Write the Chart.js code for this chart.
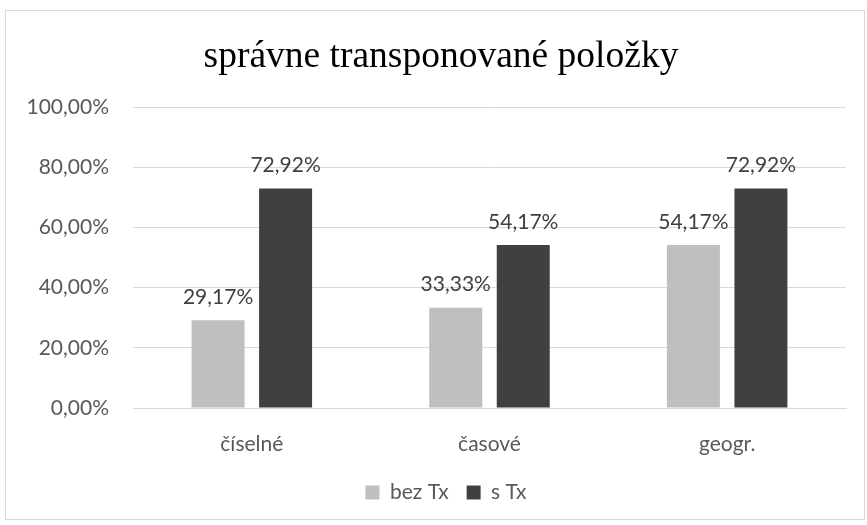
<!DOCTYPE html>
<html><head><meta charset="utf-8">
<script src="https://cdn.jsdelivr.net/npm/chart.js@4/dist/chart.umd.min.js"></script>
<style>html,body{margin:0;padding:0;background:#fff}#wrap{width:867px;height:525px;position:relative}</style>
</head><body><div id="wrap"><canvas id="c" width="867" height="525"></canvas></div>
<script>
const categories = ["číselné", "časové", "geogr."];
const seriesNames = ["bez Tx", "s Tx"];
const bezTx = [29.17, 33.33, 54.17];
const sTx = [72.92, 54.17, 72.92];
const yTicks = [0, 20, 40, 60, 80, 100];
const titleText = 'správne transponované položky';

const fmt = v => v.toFixed(2).replace('.', ',') + '%';
const FONT = "Lato, 'Open Sans', sans-serif";

const framePlugin = {
  id: 'frame',
  afterLayout(chart) {
    if (chart.legend) { chart.legend.left += 23; chart.legend.right += 23; }
  },
  beforeDraw(chart) {
    const ctx = chart.ctx;
    ctx.save();
    ctx.fillStyle = '#fff';
    ctx.fillRect(0, 0, chart.width, chart.height);
    ctx.strokeStyle = '#d9d9d9';
    ctx.lineWidth = 1;
    ctx.strokeRect(5.5, 10.5, 859, 509);
    ctx.font = "37.5px 'Liberation Serif', 'Times New Roman', serif";
    ctx.fillStyle = '#000';
    ctx.textAlign = 'center';
    ctx.textBaseline = 'middle';
    ctx.fillText(titleText, 441, 57);
    ctx.restore();
  }
};
const labelPlugin = {
  id: 'vals',
  afterDatasetsDraw(chart) {
    const ctx = chart.ctx;
    ctx.save();
    ctx.font = "21px " + FONT;
    ctx.fillStyle = '#404040';
    ctx.textAlign = 'center';
    ctx.textBaseline = 'middle';
    chart.data.datasets.forEach((ds, i) => {
      chart.getDatasetMeta(i).data.forEach((bar, j) => {
        ctx.fillText(fmt(ds.data[j]), bar.x, bar.y - 23);
      });
    });
    ctx.restore();
  }
};

new Chart(document.getElementById('c'), {
  type: 'bar',
  data: {
    labels: categories,
    datasets: [
      { label: seriesNames[0], data: bezTx, backgroundColor: '#bfbfbf', categoryPercentage: 0.568, barPercentage: 0.785 },
      { label: seriesNames[1], data: sTx, backgroundColor: '#404040', categoryPercentage: 0.568, barPercentage: 0.785 }
    ]
  },
  options: {
    responsive: false,
    animation: false,
    layout: { padding: { left: 0, right: 21, top: 107, bottom: 12 } },
    plugins: {
      title: { display: false },
      legend: {
        position: 'bottom',
        labels: { boxWidth: 14, boxHeight: 14, padding: 18, color: '#595959', font: { family: FONT, size: 21 } }
      },
      tooltip: { enabled: false }
    },
    scales: {
      x: {
        grid: { display: false, drawTicks: false },
        border: { display: true, color: '#d9d9d9' },
        ticks: { color: '#595959', padding: 24, font: { family: FONT, size: 21 } },
        afterFit(s) { s.height = 56; }
      },
      y: {
        min: 0, max: 100,
        afterBuildTicks(s) { s.ticks = yTicks.map(v => ({ value: v })); },
        grid: { color: '#d9d9d9', drawTicks: false },
        border: { display: false },
        ticks: { color: '#595959', padding: 24, font: { family: FONT, size: 21 }, callback: v => fmt(v) },
        afterFit(s) { s.width = 133; }
      }
    }
  },
  plugins: [framePlugin, labelPlugin]
});
</script></body></html>
